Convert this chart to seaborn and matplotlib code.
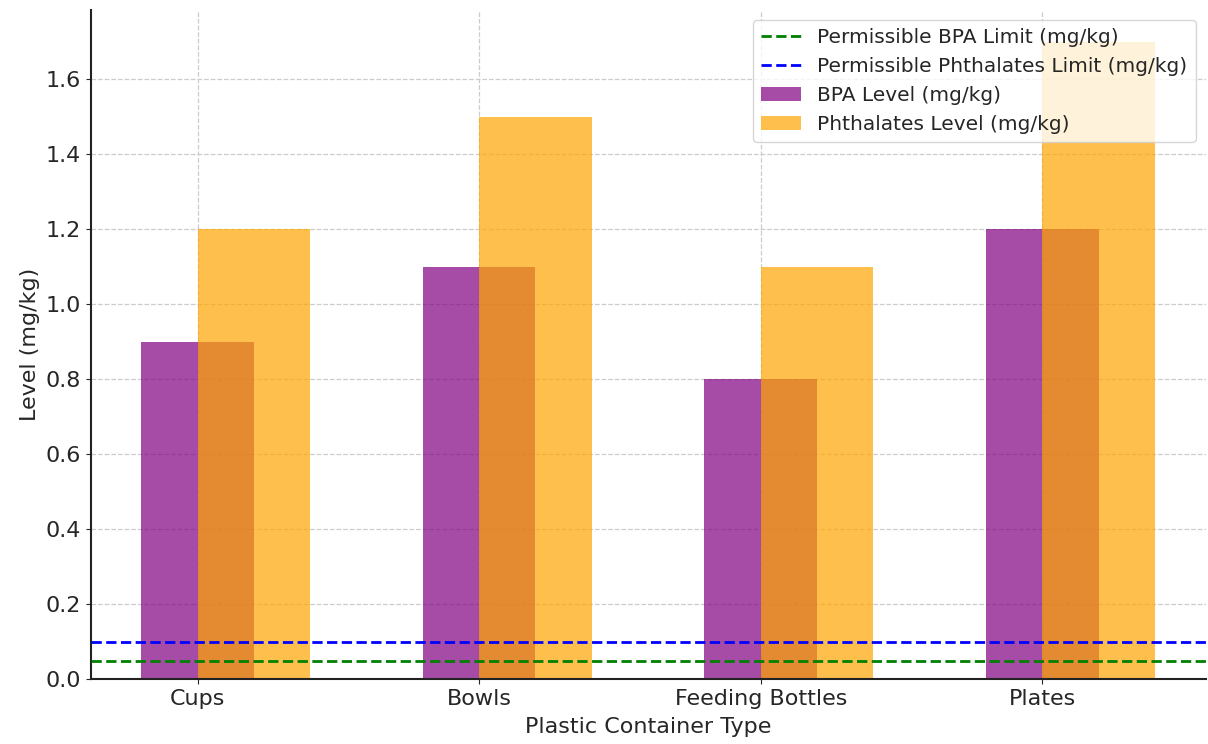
import matplotlib
matplotlib.use("Agg")
import matplotlib.pyplot as plt
import seaborn as sns
import numpy as np
import pandas as pd

categories = ["Cups", "Bowls", "Feeding Bottles", "Plates"]
bpa_levels = [0.9, 1.1, 0.8, 1.2]
phthalates_levels = [1.2, 1.5, 1.1, 1.7]
bpa_limit = 0.05
phthalates_limit = 0.1

sns.set_style("ticks")
plt.rcParams["font.family"] = ["DejaVu Sans"]

fig, ax = plt.subplots(figsize=(12.08, 7.44), dpi=100)
x = np.arange(len(categories))
width = 0.4

ax.bar(x, bpa_levels, width, color="purple", alpha=0.7, linewidth=0,
       label="BPA Level (mg/kg)", zorder=2)
ax.bar(x + width / 2, phthalates_levels, width, color="orange", alpha=0.7, linewidth=0,
       label="Phthalates Level (mg/kg)", zorder=2)
ax.axhline(bpa_limit, color="green", linestyle="--", linewidth=2,
           label="Permissible BPA Limit (mg/kg)", zorder=3)
ax.axhline(phthalates_limit, color="blue", linestyle="--", linewidth=2,
           label="Permissible Phthalates Limit (mg/kg)", zorder=3)

ax.set_xticks(x)
ax.set_xticklabels(categories, fontsize=16)
ax.tick_params(axis="y", labelsize=16)
ax.set_xlabel("Plastic Container Type", fontsize=16, labelpad=6)
ax.set_ylabel("Level (mg/kg)", fontsize=16)
ax.grid(True, linestyle="--", color="#cccccc", linewidth=0.9, zorder=0)
ax.set_axisbelow(True)
sns.despine(ax=ax)
for s in ["left", "bottom"]:
    ax.spines[s].set_linewidth(1.5)
    ax.spines[s].set_color("#222222")

ax.legend(loc="upper right", fontsize=14.5)

fig.subplots_adjust(left=0.075, right=0.998, top=0.987, bottom=0.087)
fig.savefig("out.png", dpi=100)
